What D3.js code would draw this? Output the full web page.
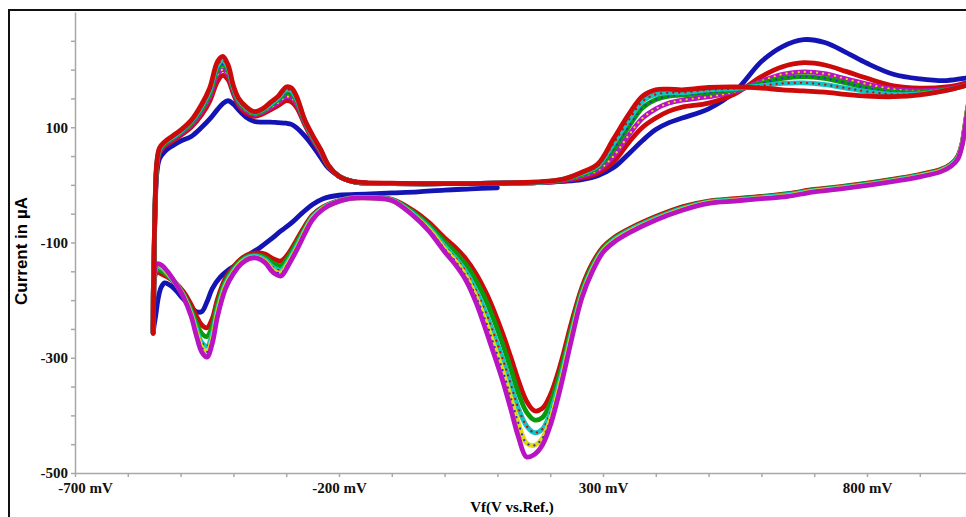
<!DOCTYPE html>
<html lang="en">
<head>
<meta charset="UTF-8">
<title>Cyclic voltammogram</title>
<script src="https://cdn.jsdelivr.net/npm/d3@7"></script>
<style>
    body { margin: 0; background: #fff; }
    .tick text { font-family: "Liberation Serif", "Times New Roman", serif; font-weight: bold; font-size: 15px; fill: #111; }
    .axis path, .axis line { stroke: #a8a8a8; stroke-width: 1.5px; }
</style>
</head>
<body>
<svg id="main" width="966" height="517"></svg>
<script>
    // tick labels
    const xLabels = [-700, -200, 300, 800];
    const yLabels = [100, -100, -300, -500];

    // first cathodic sweep (start 100 mV -> -550 mV), mV
    const blueCathodicPotential = [100, 50, 0, -50, -100, -150, -200, -230, -250, -270, -290, -310, -330, -350, -370, -390, -410, -425, -440, -450, -460, -470, -480, -495, -510, -520, -530, -537, -543, -547, -550, -552];
    const cathodicCycle0 = [-5, -7, -9, -12, -14, -16, -18, -24, -34, -49, -66, -80, -95, -109, -121, -136, -148, -160, -180, -203, -220, -220, -212, -198, -182, -174, -170, -178, -200, -226, -243, -257];

    // anodic sweeps (-550 mV -> 1000 mV), current in uA
    const anodicPotential = [-552, -551, -550, -548, -545, -540, -530, -515, -500, -480, -460, -445, -430, -420, -410, -400, -390, -375, -360, -345, -330, -315, -300, -290, -280, -265, -250, -235, -220, -200, -175, -150, -100, 0, 100, 175, 225, 260, 290, 320, 350, 375, 400, 425, 450, 500, 550, 600, 640, 680, 720, 760, 800, 850, 900, 950, 985, 1000];
    const anodicCycle1 = [-257, -200, -120, -40, 20, 45, 58, 68, 76, 84, 100, 114, 131, 141, 146, 140, 130, 117, 110, 109, 109, 108, 107, 105, 99, 85, 68, 48, 29, 15, 6, 3, 2, 2, 3, 4, 6, 9, 16, 30, 55, 77, 96, 108, 116, 132, 162, 214, 240, 252, 247, 230, 211, 192, 184, 181, 185, 188];
    const anodicCycle2 = [-255, -198, -115, -30, 30, 55, 67, 76, 86, 100, 122, 145, 180, 190, 182, 158, 138, 124, 119, 123, 130, 138, 146, 144, 134, 105, 78, 56, 32, 15, 6, 3, 2, 2, 3, 4, 7, 12, 20, 40, 75, 100, 116, 128, 135, 142, 158, 188, 205, 212, 208, 197, 185, 172, 168, 170, 176, 179];
    const anodicCycle3 = [-256, -199, -113, -27, 33, 58, 70, 79, 89, 104, 128, 153, 192, 200, 191, 163, 142, 128, 122, 126, 134, 143, 153, 151, 140, 108, 80, 58, 33, 15, 6, 3, 2, 2, 3, 4, 8, 15, 25, 50, 88, 116, 132, 142, 147, 153, 162, 180, 192, 196, 193, 184, 175, 166, 163, 166, 173, 177];
    const anodicCycle4 = [-257, -200, -112, -25, 35, 60, 72, 81, 91, 107, 132, 158, 201, 209, 198, 166, 145, 131, 124, 128, 138, 148, 160, 158, 145, 110, 82, 60, 33, 15, 6, 3, 2, 2, 3, 4, 9, 18, 30, 62, 103, 134, 148, 154, 156, 160, 165, 176, 185, 188, 185, 177, 168, 161, 160, 165, 172, 176];
    const anodicCycle5 = [-257, -200, -111, -23, 38, 62, 74, 83, 93, 110, 136, 163, 208, 216, 203, 169, 148, 133, 126, 130, 140, 151, 165, 163, 149, 112, 84, 61, 34, 15, 6, 3, 2, 2, 3, 4, 10, 20, 33, 72, 114, 145, 157, 160, 160, 165, 167, 172, 176, 177, 174, 168, 162, 157, 158, 164, 172, 176];
    const anodicCycle6 = [-258, -200, -110, -20, 40, 64, 75, 85, 95, 112, 140, 168, 214, 223, 208, 172, 150, 135, 127, 132, 143, 154, 170, 168, 153, 113, 86, 62, 34, 15, 6, 4, 3, 2, 3, 5, 10, 22, 36, 80, 124, 154, 165, 166, 165, 169, 170, 168, 165, 163, 161, 157, 154, 153, 156, 164, 172, 176];

    // cathodic sweeps (1000 mV -> -550 mV)
    const cathodicPotential = [1000, 995, 990, 985, 980, 972, 960, 940, 900, 850, 800, 750, 700, 650, 600, 550, 500, 450, 400, 350, 320, 300, 280, 260, 240, 220, 200, 185, 170, 155, 140, 125, 110, 95, 80, 60, 40, 20, 0, -30, -60, -100, -140, -180, -210, -230, -250, -265, -280, -295, -310, -325, -340, -355, -370, -385, -400, -415, -430, -440, -450, -460, -470, -480, -495, -510, -525, -535, -545, -550, -552, -552];
    const cathodicCycle1 = [178, 155, 130, 100, 72, 50, 37, 27, 18, 10, 3, -3, -8, -15, -20, -24, -28, -38, -55, -76, -92, -108, -136, -178, -240, -310, -365, -388, -392, -375, -340, -298, -258, -222, -190, -155, -128, -108, -92, -65, -44, -25, -22, -23, -30, -38, -52, -72, -95, -118, -132, -128, -120, -118, -120, -128, -142, -162, -198, -232, -248, -243, -228, -208, -185, -170, -160, -155, -152, -165, -210, -252];
    const cathodicCycle2 = [178, 154, 129, 99, 71, 49, 36, 26, 17, 9, 2, -4, -9, -16, -21, -25, -29, -40, -57, -78, -94, -111, -140, -184, -250, -322, -380, -404, -408, -394, -362, -318, -276, -238, -204, -167, -138, -117, -99, -70, -47, -26, -22, -23, -31, -39, -54, -76, -100, -124, -140, -136, -126, -122, -123, -131, -146, -167, -207, -245, -263, -258, -240, -217, -189, -170, -157, -150, -147, -160, -209, -252];
    const cathodicCycle3 = [177, 152, 127, 97, 70, 47, 35, 25, 16, 8, 1, -5, -10, -17, -22, -26, -30, -41, -58, -79, -96, -113, -144, -189, -258, -334, -396, -424, -430, -418, -388, -345, -302, -263, -226, -184, -150, -126, -106, -74, -50, -26, -22, -23, -31, -40, -56, -79, -106, -130, -148, -143, -130, -124, -125, -133, -149, -172, -216, -258, -280, -273, -250, -222, -191, -170, -154, -145, -142, -158, -208, -252];
    const cathodicCycle4 = [176, 151, 126, 96, 69, 46, 34, 24, 15, 7, 0, -6, -11, -19, -23, -27, -31, -43, -60, -81, -98, -115, -147, -193, -264, -342, -408, -440, -452, -448, -414, -368, -322, -282, -242, -195, -158, -132, -111, -77, -52, -27, -23, -24, -32, -41, -58, -82, -110, -134, -153, -148, -133, -126, -127, -135, -152, -176, -222, -267, -290, -282, -256, -225, -192, -170, -152, -142, -139, -156, -208, -252];
    const cathodicCycle5 = [176, 150, 125, 95, 68, 45, 33, 23, 14, 6, -1, -7, -12, -20, -24, -28, -32, -44, -61, -83, -100, -117, -150, -196, -270, -350, -418, -452, -468, -472, -438, -388, -340, -298, -257, -205, -165, -138, -116, -80, -53, -27, -23, -24, -32, -42, -60, -85, -113, -138, -158, -152, -135, -127, -128, -137, -154, -180, -228, -275, -299, -290, -262, -228, -194, -170, -150, -140, -137, -155, -208, -252];

    const blue = '#1414b4', red = '#cc0a0a', magenta = '#b814c4', green = '#0a9a0a', cyan = '#10c4c4', yellow = '#e0d810', navy = '#3030c8';

    // sweeps in recording order; speckle = colour of the marker dots laid over it
    const sweeps = [
        [blueCathodicPotential, cathodicCycle0, blue, null],
        [anodicPotential, anodicCycle1, blue, null],
        [cathodicPotential, cathodicCycle1, red, null],
        [anodicPotential, anodicCycle2, red, null],
        [cathodicPotential, cathodicCycle2, green, null],
        [anodicPotential, anodicCycle3, magenta, yellow],
        [cathodicPotential, cathodicCycle3, cyan, red],
        [anodicPotential, anodicCycle4, green, navy],
        [cathodicPotential, cathodicCycle4, yellow, navy],
        [anodicPotential, anodicCycle5, cyan, red],
        [cathodicPotential, cathodicCycle5, magenta, null],
        [anodicPotential, anodicCycle6, red, null]
    ].map(s => ({ points: s[0].map((p, i) => [p, s[1][i]]), color: s[2], speckle: s[3] }));

    const svg = d3.select('#main');
    const xScale = d3.scaleLinear().domain([-700, 1100]).range([75, 1025.4]);
    const yScale = d3.scaleLinear().domain([-500, 300]).range([473, 12]);

    svg.append('rect')
        .attr('x', 9).attr('y', 10).attr('width', 1000).attr('height', 600)
        .attr('fill', 'none').attr('stroke', '#111').attr('stroke-width', 2);

    svg.append('g').attr('class', 'axis')
        .attr('transform', 'translate(75,0)')
        .call(d3.axisLeft(yScale).tickValues(d3.range(-500, 251, 50)).tickSize(4).tickSizeOuter(0)
            .tickFormat(d => yLabels.includes(d) ? d : ''));

    const xAxis = svg.append('g').attr('class', 'axis')
        .attr('transform', 'translate(0,473)')
        .call(d3.axisBottom(xScale).tickValues(d3.range(-700, 1001, 100)).tickSize(4).tickSizeOuter(0)
            .tickFormat(d => xLabels.includes(d) ? d + ' mV' : ''));
    xAxis.selectAll('text').attr('y', 9).filter(d => d === -700).attr('dx', 10);

    const line = d3.line()
        .x(d => xScale(d[0]))
        .y(d => yScale(d[1]))
        .curve(d3.curveCatmullRom.alpha(0.5));

    const curves = svg.append('g');
    sweeps.forEach(s => {
        curves.append('path')
            .attr('d', line(s.points))
            .attr('fill', 'none')
            .attr('stroke', s.color)
            .attr('stroke-width', 4.8)
            .attr('stroke-linejoin', 'round')
            .attr('stroke-linecap', 'round');
        if (s.speckle) {
            curves.append('path')
                .attr('d', line(s.points))
                .attr('fill', 'none')
                .attr('stroke', s.speckle)
                .attr('stroke-width', 2.2)
                .attr('stroke-dasharray', '0.1,6')
                .attr('stroke-linecap', 'round');
        }
    });

    svg.append('text')
        .attr('x', 512).attr('y', 512)
        .attr('text-anchor', 'middle')
        .style('font-family', '"Liberation Serif", "Times New Roman", serif')
        .style('font-weight', 'bold').style('font-size', '15px')
        .text('Vf(V vs.Ref.)');

    svg.append('text')
        .attr('transform', 'translate(27,251) rotate(-90)')
        .attr('text-anchor', 'middle')
        .style('font-family', '"Liberation Sans", Arial, sans-serif')
        .style('font-weight', 'bold').style('font-size', '17px')
        .text('Current in µA');
</script>
</body>
</html>
